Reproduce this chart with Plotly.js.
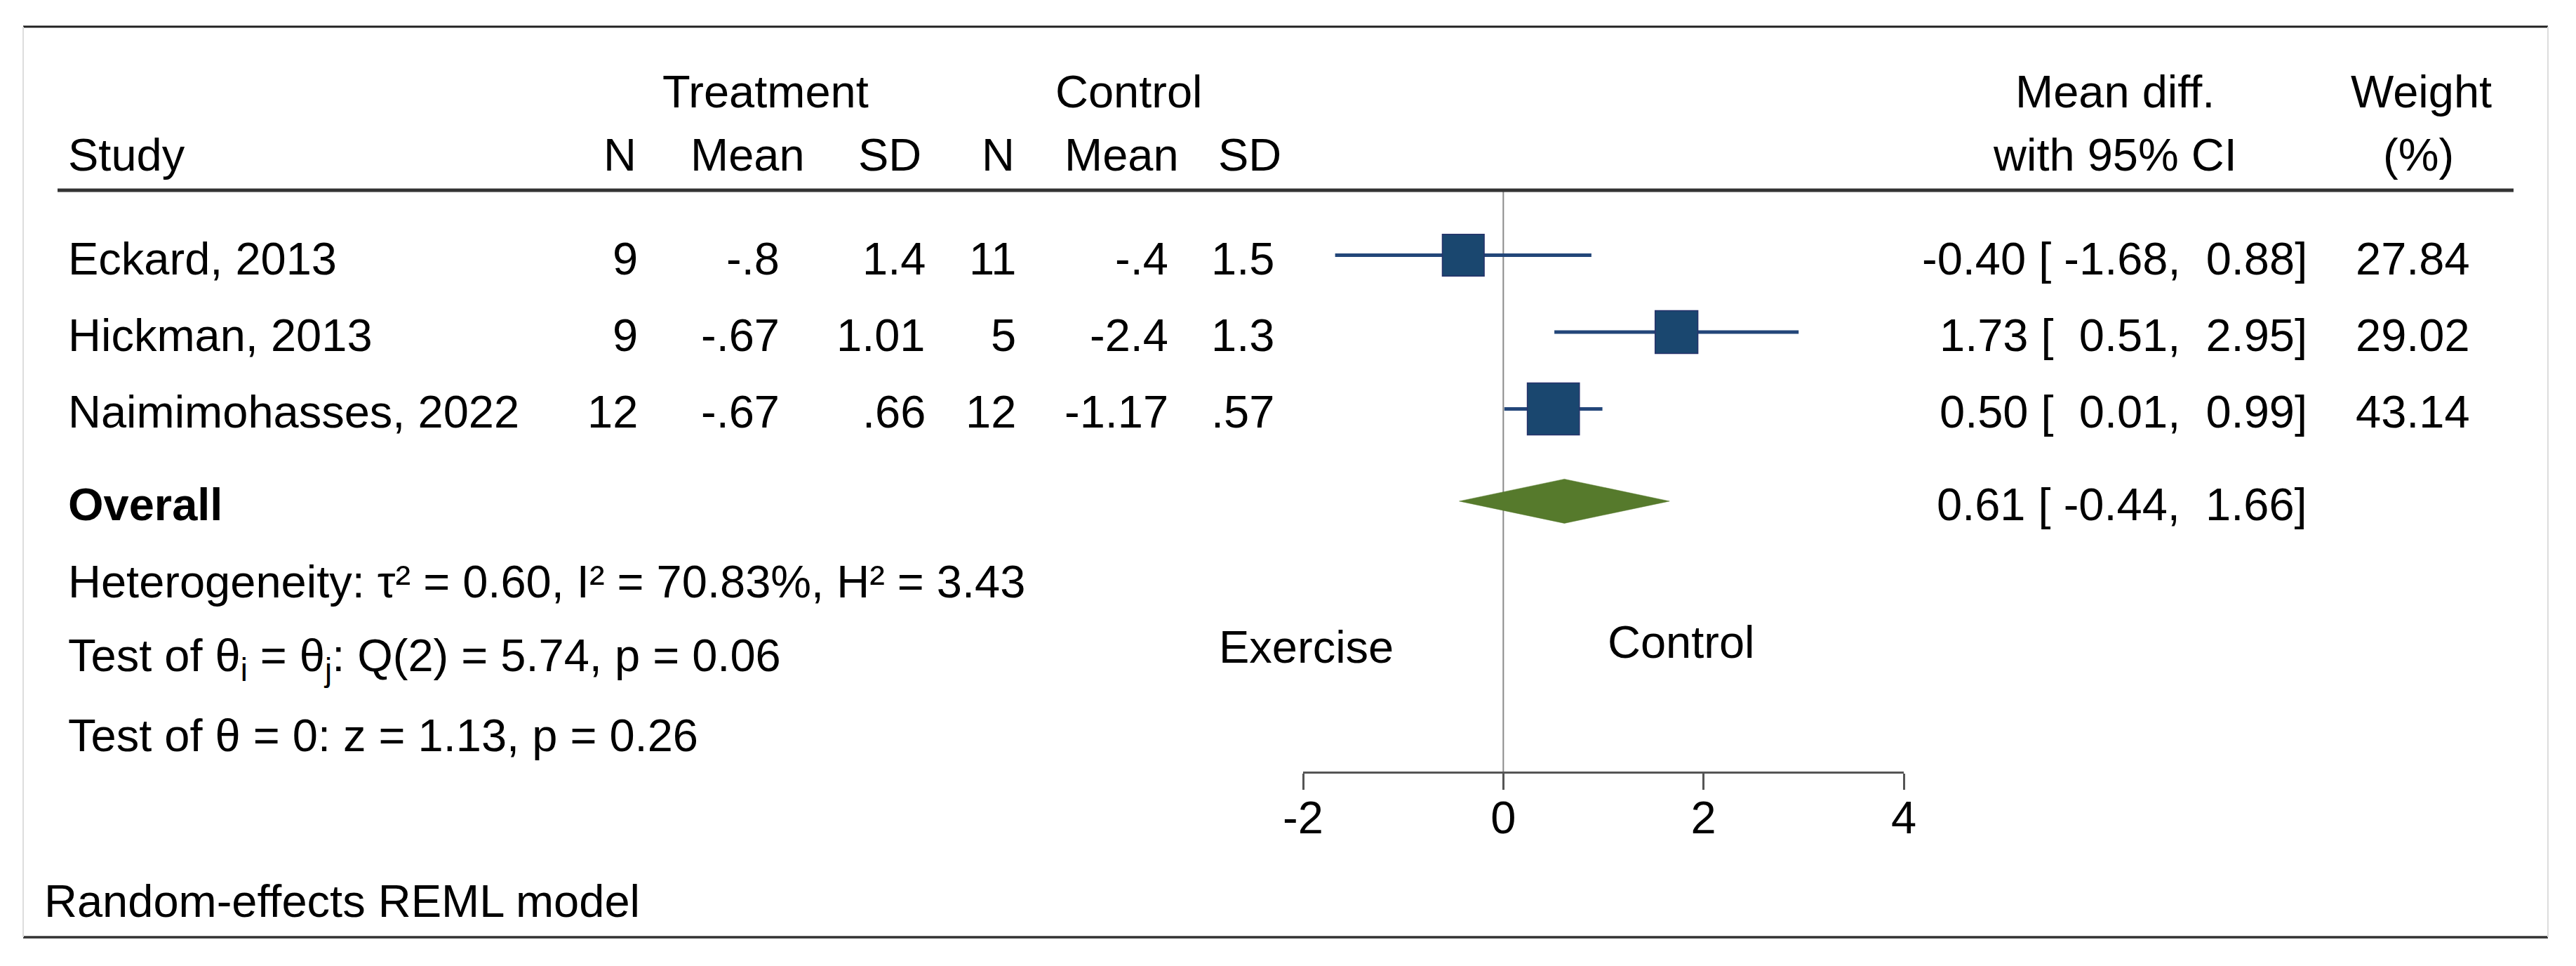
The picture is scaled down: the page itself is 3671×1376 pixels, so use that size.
<!DOCTYPE html>
<html>
<head>
<meta charset="utf-8">
<script src="https://cdn.plot.ly/plotly-3.0.1.min.js"></script>
<style>html,body{margin:0;padding:0;background:#fff;}</style>
</head>
<body>
<div id="chart" style="width:3671px;height:1376px;"></div>
<script>
// ---- data ----
const studies = ["Eckard, 2013", "Hickman, 2013", "Naimimohasses, 2022"];
const treatN = ["9", "9", "12"];
const treatMean = ["-.8", "-.67", "-.67"];
const treatSD = ["1.4", "1.01", ".66"];
const ctrlN = ["11", "5", "12"];
const ctrlMean = ["-.4", "-2.4", "-1.17"];
const ctrlSD = ["1.5", "1.3", ".57"];
const meanDiff = [-0.40, 1.73, 0.50];
const ciLow = [-1.68, 0.51, 0.01];
const ciHigh = [0.88, 2.95, 0.99];
const weights = [27.84, 29.02, 43.14];
const overallEst = 0.61;
const overallLow = -0.44;
const overallHigh = 1.66;
const tickValues = [-2, 0, 2, 4];
const statLines = [
  "Heterogeneity: \u03C4\u00B2 = 0.60, I\u00B2 = 70.83%, H\u00B2 = 3.43",
  "Test of \u03B8<sub>i</sub> = \u03B8<sub>j</sub>: Q(2) = 5.74, p = 0.06",
  "Test of \u03B8 = 0: z = 1.13, p = 0.26"
];
const footNote = "Random-effects REML model";
const favourLeft = "Exercise";
const favourRight = "Control";

// ---- layout helpers ----
const W = 3671, H = 1376;
const FONT = "Liberation Sans, Arial, Helvetica, sans-serif";
const FS = 65;
const px = x => x / W;
const py = y => 1 - y / H;
const NB = "\u00A0";
const fmtPad = v => (v < 0 ? "-" : NB) + Math.abs(v).toFixed(2);
const ciText = (e, l, h) => e.toFixed(2) + " [" + NB + fmtPad(l) + "," + NB + fmtPad(h) + "]";

const rowPitch = 109.5, row0 = 363.5, axisY = 1099;
const overallRow = studies.length + 0.2;

const ann = [];
function T(text, x, y, anchor, extra) {
  ann.push(Object.assign({
    text: text, x: px(x), y: py(y), xref: "paper", yref: "paper",
    xanchor: anchor, yanchor: "middle", showarrow: false,
    font: {family: FONT, size: FS, color: "#000"}
  }, extra || {}));
}

// headers
T("Treatment", 1091, 130, "center");
T("Control", 1609, 130, "center");
T("Mean diff.", 3014, 130, "center");
T("Weight", 3450, 130, "center");
T("Study", 95, 220, "left");
T("N", 909, 220, "right");
T("Mean", 1149, 220, "right");
T("SD", 1315, 220, "right");
T("N", 1448, 220, "right");
T("Mean", 1682, 220, "right");
T("SD", 1828, 220, "right");
T("with 95% CI", 3014, 220, "center");
T("(%)", 3446, 220, "center");

// study rows
const textRows = [368, 477, 586];
studies.forEach((s, i) => {
  const y = textRows[i];
  T(s, 95, y, "left");
  T(treatN[i], 911, y, "right");
  T(treatMean[i], 1113, y, "right");
  T(treatSD[i], 1321, y, "right");
  T(ctrlN[i], 1450, y, "right");
  T(ctrlMean[i], 1667, y, "right");
  T(ctrlSD[i], 1818, y, "right");
  T(ciText(meanDiff[i], ciLow[i], ciHigh[i]), 3290, y, "right");
  T(weights[i].toFixed(2), 3522, y, "right");
});

// overall
T("<b>Overall</b>", 95, 718, "left");
T(ciText(overallEst, overallLow, overallHigh), 3290, 718, "right");
const statY = [828, 938, 1047];
statLines.forEach((s, i) => T(s, 95, statY[i], "left"));
T(favourLeft, 1861, 921, "center");
T(favourRight, 2396, 914, "center");
T(footNote, 61, 1283, "left");

// ---- traces ----
const ciX = [], ciY = [];
studies.forEach((s, i) => { ciX.push(ciLow[i], ciHigh[i], null); ciY.push(i, i, null); });

const traces = [
  {type: "scatter", mode: "lines", x: ciX, y: ciY,
   line: {color: "#234679", width: 5}, hoverinfo: "skip"},
  {type: "scatter", mode: "markers", x: meanDiff, y: studies.map((s, i) => i),
   marker: {symbol: "square", size: weights.map(w => 11.3 * Math.sqrt(w)), opacity: 1,
            color: "#1A476F", line: {color: "#27336B", width: 1.5}}},
  {type: "scatter", mode: "lines",
   x: [overallLow, overallEst, overallHigh, overallEst, overallLow],
   y: [overallRow, overallRow - 0.2877, overallRow, overallRow + 0.2877, overallRow],
   fill: "toself", fillcolor: "#567A2C", line: {color: "#567A2C", width: 0.5}}
];

const yTop = -row0 / rowPitch;
const yBot = (axisY - row0) / rowPitch;

const layout = {
  width: W, height: H,
  margin: {l: 0, r: 0, t: 0, b: 0, pad: 0},
  paper_bgcolor: "#fff", plot_bgcolor: "rgba(0,0,0,0)",
  showlegend: false,
  xaxis: {
    domain: [1857 / W, 2713 / W], range: [-2, 4],
    tickvals: tickValues, ticktext: tickValues.map(String),
    ticks: "outside", ticklen: 23, tickwidth: 3, tickcolor: "#555",
    ticklabelstandoff: -16,
    showline: true, linewidth: 3, linecolor: "#555",
    showgrid: false, zeroline: false,
    tickfont: {family: FONT, size: FS, color: "#000"}
  },
  yaxis: {
    domain: [1 - axisY / H, 1], range: [yBot, yTop],
    visible: false, showgrid: false, zeroline: false
  },
  annotations: ann,
  shapes: [
    {type: "line", xref: "x", yref: "paper", x0: 0, x1: 0, y0: py(272), y1: py(axisY),
     line: {color: "#8a8a8a", width: 2}, layer: "below"},
    {type: "line", xref: "paper", yref: "paper", x0: px(33), x1: px(3631), y0: py(38), y1: py(38),
     line: {color: "#222", width: 3}},
    {type: "line", xref: "paper", yref: "paper", x0: px(33), x1: px(3631), y0: py(1335), y1: py(1335),
     line: {color: "#333", width: 3.5}},
    {type: "line", xref: "paper", yref: "paper", x0: px(33), x1: px(33), y0: py(38), y1: py(1335),
     line: {color: "#dddddd", width: 2}},
    {type: "line", xref: "paper", yref: "paper", x0: px(3631), x1: px(3631), y0: py(38), y1: py(1335),
     line: {color: "#dddddd", width: 2}},
    {type: "line", xref: "paper", yref: "paper", x0: px(82), x1: px(3582), y0: py(271), y1: py(271),
     line: {color: "#333", width: 5}}
  ]
};

Plotly.newPlot("chart", traces, layout, {displayModeBar: false, staticPlot: true});
</script>
</body>
</html>
